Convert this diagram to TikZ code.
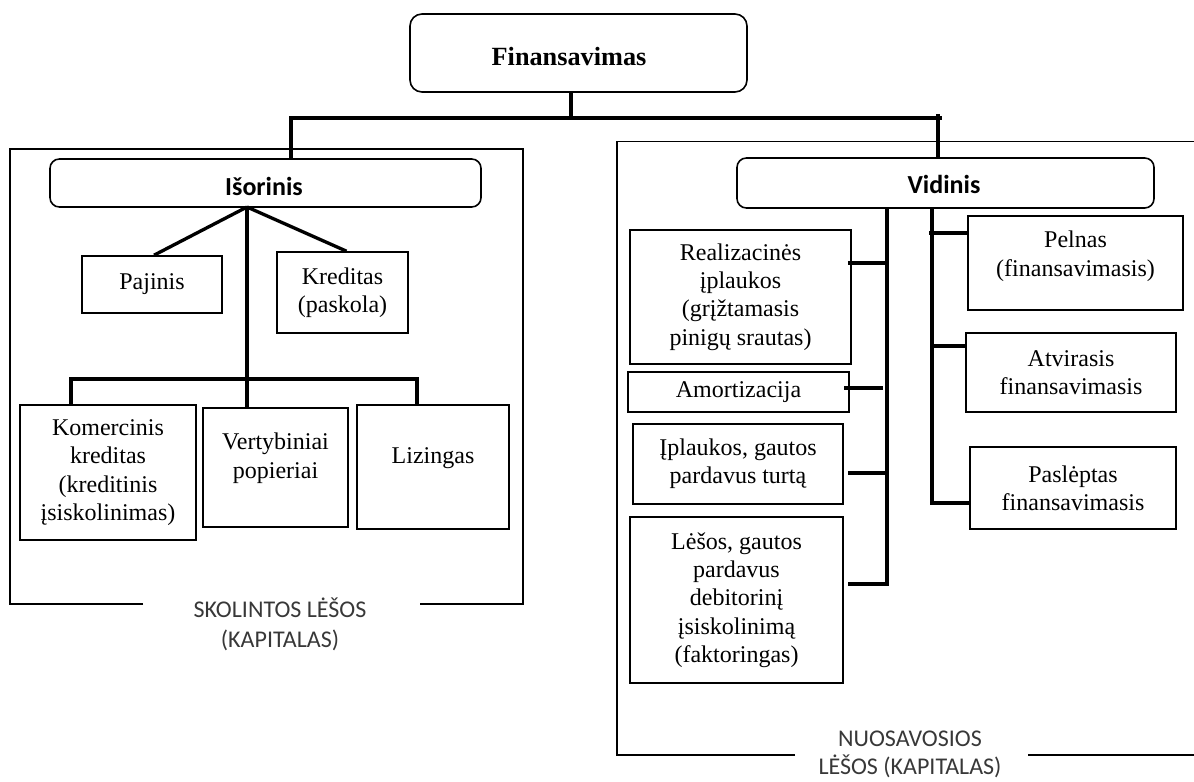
\documentclass[tikz,border=0pt]{standalone}
\usepackage{fontspec}
\setmainfont{Liberation Serif}
\newfontfamily\labelfont{Carlito}
\usetikzlibrary{fit}
% a framed box spanning two corners, with its text set at the centre (optionally raised)
\newcommand\tbox[5][0pt]{%
  \node[box, fit={#3 #4}] (#2) {};
  \node[txt] (#2-t) at ([yshift=#1]#2.center) {#5};}
\begin{document}
\begin{tikzpicture}[x=0.75pt,y=-0.75pt,
  serif/.style={font=\fontsize{18}{21.2}\selectfont},
  box/.style={draw, line width=1.2pt, inner sep=0pt},
  rbox/.style={draw, line width=1.2pt, inner sep=0pt, rounded corners=7pt},
  txt/.style={inner sep=0pt, align=center, serif},
  headtxt/.style={inner sep=0pt, font=\labelfont\bfseries\fontsize{19.5}{23}\selectfont},
  conn/.style={line width=2.5pt, line join=miter},
  frame/.style={line width=1.2pt},
  grouplabel/.style={inner sep=0pt, align=center, text=black!78,
              font=\labelfont\fontsize{18}{22.5}\selectfont},
]
\useasboundingbox (0,0) rectangle (1194,781);

% ---- root ----
\node[rbox, rounded corners=9pt, fit={(410,14) (747,92)}] (title) {};
\node[inner sep=0pt, font=\bfseries\fontsize{19.7}{23}\selectfont] (title-t) at (569,57) {Finansavimas};

% ---- frames around the two groups ----
\draw[frame] (143,604) -- (10,604) -- (10,149) -- (523,149) -- (523,604) -- (420,604);
\draw[frame] (795,755) -- (617,755) -- (617,141.7) -- (1194,141.7);
\draw[frame] (1028,755) -- (1194,755);
\node[grouplabel] (capL) at (280,624) {SKOLINTOS LĖŠOS\\(KAPITALAS)};
\node[grouplabel, font=\labelfont\fontsize{18}{21}\selectfont] (capR) at (910,754) {NUOSAVOSIOS\\LĖŠOS (KAPITALAS)};

% ---- external branch ----
\node[rbox, fit={(50,159) (481,207)}] (isor) {};
\node[headtxt] (isor-t) at (264,186) {Išorinis};
\tbox{paj}{(82,256)}{(222,313)}{Pajinis}
\tbox{kred}{(277,252)}{(408,333)}{Kreditas\\(paskola)}
\tbox{kom}{(20,405)}{(196,540)}{Komercinis\\kreditas\\(kreditinis\\įsiskolinimas)}
\tbox[7pt]{vert}{(203,408)}{(348,527)}{Vertybiniai\\popieriai}
\tbox[7pt]{liz}{(357,405)}{(509,529)}{Lizingas}

% ---- internal branch ----
\node[rbox, fit={(737,158) (1154,208)}] (vid) {};
\node[headtxt] (vid-t) at (944,184) {Vidinis};
\tbox{real}{(630,230)}{(851,364)}{Realizacinės\\įplaukos\\(grįžtamasis\\pinigų srautas)}
\tbox{amo}{(628,372)}{(849,412)}{Amortizacija}
\tbox{ipl}{(633,424)}{(843,504)}{Įplaukos, gautos\\pardavus turtą}
\tbox{les}{(630,517)}{(843,683)}{Lėšos, gautos\\pardavus\\debitorinį\\įsiskolinimą\\(faktoringas)}
\tbox[5pt]{pel}{(968,216)}{(1183,310)}{Pelnas\\(finansavimasis)}
\tbox{atv}{(966,333)}{(1176,412)}{Atvirasis\\finansavimasis}
\tbox{pasl}{(970,447)}{(1176,529)}{Paslėptas\\finansavimasis}

% ---- top connectors ----
\coordinate (hub) at (571,118);
\coordinate (hL) at (291,118);
\coordinate (hR) at (942,118);
\coordinate (tick) at (938,114);
\draw[conn] (hub |- title.south) -- (hub);
\draw[conn] (hL |- isor.north) -- (hL) -- (hR);
\draw[conn] (tick) -- (tick |- vid.north);

% ---- external connectors ----
\coordinate (ij) at (247,207);
\coordinate (dl) at (71,379);
\coordinate (dr) at (417,379);
\draw[conn] (ij) -- ([xshift=1.5pt]paj.north);
\draw[conn] (ij) -- ([xshift=3pt]kred.north);
\draw[conn] (ij) -- (ij |- vert.north);
\draw[conn] (dl |- kom.north) -- (dl) -- (dr) -- (dr |- liz.north);

% ---- internal connectors ----
\coordinate (lt) at (887,208);
\coordinate (rt) at (932,208);
\coordinate (b1) at (887,263);
\coordinate (b2) at (883,388);
\coordinate (b3) at (887,473);
\coordinate (b4) at (887,584);
\coordinate (c1) at (929,233);
\coordinate (c2) at (932,346);
\coordinate (c3) at (932,503);
\draw[conn] (lt |- vid.south) -- (b4) -- ([xshift=3pt]b4 -| les.east);
\draw[conn] ([xshift=-3pt]b1 -| real.east) -- (b1);
\draw[conn] ([xshift=-4pt]b2 -| amo.east) -- (b2);
\draw[conn] ([xshift=3pt]b3 -| ipl.east) -- (b3);
\draw[conn] (rt |- vid.south) -- (c3) -- (c3 -| pasl.west);
\draw[conn] (c1) -- (c1 -| pel.west);
\draw[conn] (c2) -- (c2 -| atv.west);
\end{tikzpicture}
\end{document}
